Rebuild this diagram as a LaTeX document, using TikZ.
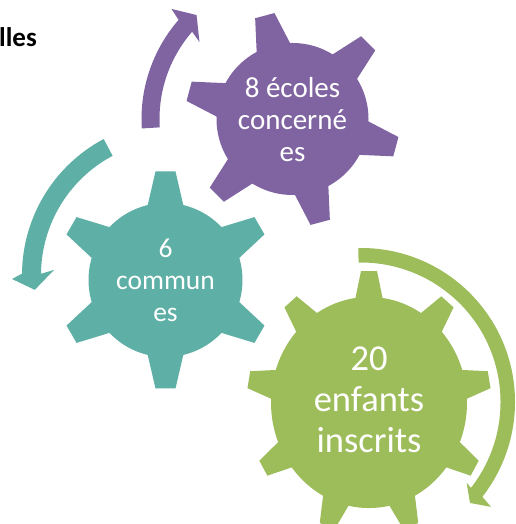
\documentclass[tikz,border=0pt]{standalone}
\usepackage{fontspec}
\setmainfont{Carlito}
\usepackage{tikz}

\definecolor{gearpurple}{HTML}{8064A2}
\definecolor{gearteal}{HTML}{5EAFA5}
\definecolor{geargreen}{HTML}{9DBC5A}

% #1 colour, #2 centre, #3 hub radius, #4 tip radius, #5 base half width, #6 tip half width, #7 tooth angles, #8 height factor
\newcommand{\gearwheel}[8]{
  \fill[#1, shift={(#2)}, yscale=#8] (0,0) circle (#3pt);
  \foreach \a in {#7} {
    \fill[#1, shift={(#2)}, yscale=#8, rotate=\a] (#3pt-3pt, -#5pt) -- (#4pt, -#6pt) -- (#4pt, #6pt) -- (#3pt-3pt, #5pt) -- cycle;
  }
}
% #1 colour, #2 centre, #3 inner radius, #4 outer radius, #5 tail angle, #6 head angle,
% #7 barb on the outer side, #8 tip, #9 barb on the inner side
\newcommand{\bentarrow}[9]{
  \fill[#1, shift={(#2)}] (#5:#4pt) arc (#5:#6:#4pt) -- #7 -- #8 -- #9 -- (#6:#3pt) arc (#6:#5:#3pt) -- cycle;
}

\begin{document}
\begin{tikzpicture}[
    x=1pt, y=1pt,
    gearlabel/.style={text=white, align=center, inner sep=0pt}
  ]
  \clip (0,0) rectangle (515,524);

  \gearwheel{gearpurple}{292.5,405}{76}{107}{17.5}{10}{105,45,-15,-75,-135,165}{1}
  \gearwheel{gearteal}{165.5,244}{77}{108.5}{18}{10}{90,30,-30,-90,-150,150}{1}
  \gearwheel{geargreen}{369,121.5}{98}{122}{14}{8}{90,50,10,-30,-70,-110,-150,170,130}{1.077}

  \bentarrow{gearpurple}{292.5,405}{133}{151}{183.6}{139}{(137.7:163.5pt)}{(132.7:141.5pt)}{(140.4:120.7pt)}
  \bentarrow{gearteal}{176,249}{135}{154}{118}{179.5}{(181.4:164pt)}{(186:142pt)}{(177.6:122pt)}
  \bentarrow{geargreen}{361,122}{139.5}{154}{91}{-38}{(-38.9:167pt)}{(-42.8:148.6pt)}{(-37.4:133pt)}

  \node (purplelabel) [gearlabel, font=\fontsize{29}{32}\selectfont] at (292.5,404) {8 écoles\\concerné\\es};
  \node (teallabel) [gearlabel, font=\fontsize{27.5}{32}\selectfont] at (165.5,244) {6\\commun\\es};
  \node (greenlabel) [gearlabel, font=\fontsize{36.5}{41}\selectfont] at (369,124) {20\\enfants\\inscrits};
  \node (cutword) [anchor=west, inner sep=0pt, font=\fontsize{27}{30}\selectfont\bfseries] at (-1,487) {lles};
\end{tikzpicture}
\end{document}
